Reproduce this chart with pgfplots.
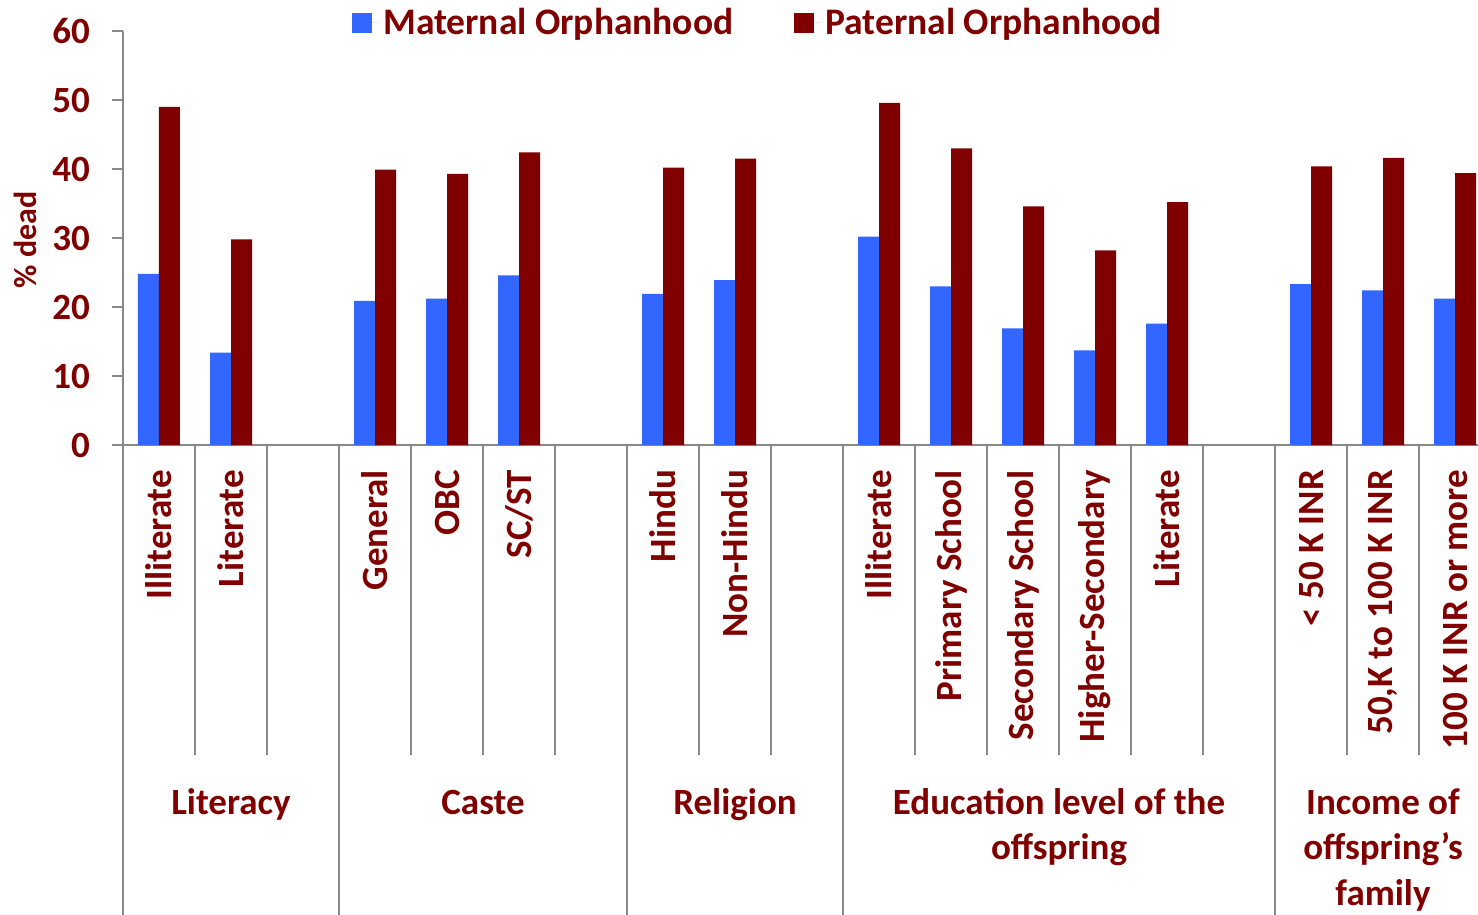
\documentclass[border=0pt]{standalone}
\usepackage{fontspec}
\setmainfont{Carlito}
\usepackage{pgfplots}
\pgfplotsset{compat=1.18}
\definecolor{matblue}{HTML}{3366FF}
\definecolor{patred}{HTML}{800000}
\definecolor{txtred}{HTML}{800000}
\definecolor{axgray}{HTML}{898989}
\begin{document}
\begin{tikzpicture}
\begin{axis}[
  at={(0pt,0pt)}, anchor=south west,
  scale only axis, width=684pt, height=207pt,
  xmin=-0.5, xmax=18.5, ymin=0, ymax=60,
  ybar=0pt, bar width=10.5pt,
  axis lines=left,
  axis line style={-, draw=axgray, line width=1pt},
  ytick={0,10,...,60}, tick align=outside, major tick length=5.5pt,
  ytick style={draw=axgray, line width=1pt},
  xtick={0,...,18}, xtick style={draw=none},
  xticklabels={Illiterate, Literate, {}, General, OBC, SC/ST, {}, Hindu, Non-Hindu, {}, Illiterate, Primary School, Secondary School, Higher-Secondary, Literate, {}, {< 50 K INR}, {50,K to 100 K INR}, {100 K INR or more}},
  xticklabel style={rotate=90, anchor=east, xshift=-3.5pt},
  yticklabel style={anchor=east, xshift=-7.5pt},
  clip=false,
  font=\fontsize{18.5}{22}\selectfont\bfseries,
  ticklabel style={text=txtred, font=\fontsize{18.5}{22}\selectfont\bfseries},
  /pgf/number format/assume math mode=true,
  ylabel={\% dead},
  ylabel style={at={(axis description cs:-0.0716,0.495)}, anchor=center, text=txtred, font=\fontsize{16}{19}\selectfont\bfseries},
  legend style={at={(axis description cs:0.465,1.02)}, anchor=center, draw=none, fill=none,
    legend columns=2, font=\fontsize{18.75}{22}\selectfont\bfseries, text=txtred,
    /tikz/every even column/.append style={column sep=28.5pt}},
]
\addplot[fill=matblue, draw=none, legend image code/.code={\fill[matblue] (0pt,-5pt) rectangle (10pt,5pt); \path (0pt,0pt) -- (13.5pt,0pt);}] coordinates {
 (0,24.8) (1,13.4) (3,20.9) (4,21.2) (5,24.6) (7,21.9) (8,23.9)
 (10,30.2) (11,23.0) (12,16.9) (13,13.7) (14,17.6) (16,23.3) (17,22.4) (18,21.2)};
\addlegendentry{Maternal Orphanhood}
\addplot[fill=patred, draw=none, legend image code/.code={\fill[patred] (0pt,-5pt) rectangle (10pt,5pt); \path (0pt,0pt) -- (13.5pt,0pt);}] coordinates {
 (0,49.0) (1,29.8) (3,39.9) (4,39.3) (5,42.4) (7,40.2) (8,41.5)
 (10,49.6) (11,43.0) (12,34.6) (13,28.2) (14,35.2) (16,40.4) (17,41.6) (18,39.4)};
\addlegendentry{Paternal Orphanhood}
\pgfplotsinvokeforeach{0.5,1.5,3.5,4.5,5.5,7.5,8.5,10.5,11.5,12.5,13.5,14.5,16.5,17.5}{
  \draw[axgray, line width=1pt] (axis cs:#1,0) -- (axis cs:#1,-44.93);
}
\pgfplotsinvokeforeach{-0.5,2.5,6.5,9.5,15.5,18.5}{
  \draw[axgray, line width=1pt] (axis cs:#1,0) -- (axis cs:#1,-72);
}
\node[anchor=base, text=txtred] at (axis cs:1,-53.62) {Literacy};
\node[anchor=base, text=txtred] at (axis cs:4.5,-53.62) {Caste};
\node[anchor=base, text=txtred] at (axis cs:8,-53.62) {Religion};
\node[anchor=base, text=txtred] at (axis cs:12.5,-53.62) {Education level of the};
\node[anchor=base, text=txtred] at (axis cs:12.5,-60.14) {offspring};
\node[anchor=base, text=txtred] at (axis cs:17,-53.62) {Income of};
\node[anchor=base, text=txtred] at (axis cs:17,-60.14) {offspring’s};
\node[anchor=base, text=txtred] at (axis cs:17,-66.67) {family};
\end{axis}
\pgfresetboundingbox
\path[use as bounding box] (-61.5pt,-235pt) rectangle (677.5pt,222.5pt);
\end{tikzpicture}
\end{document}
